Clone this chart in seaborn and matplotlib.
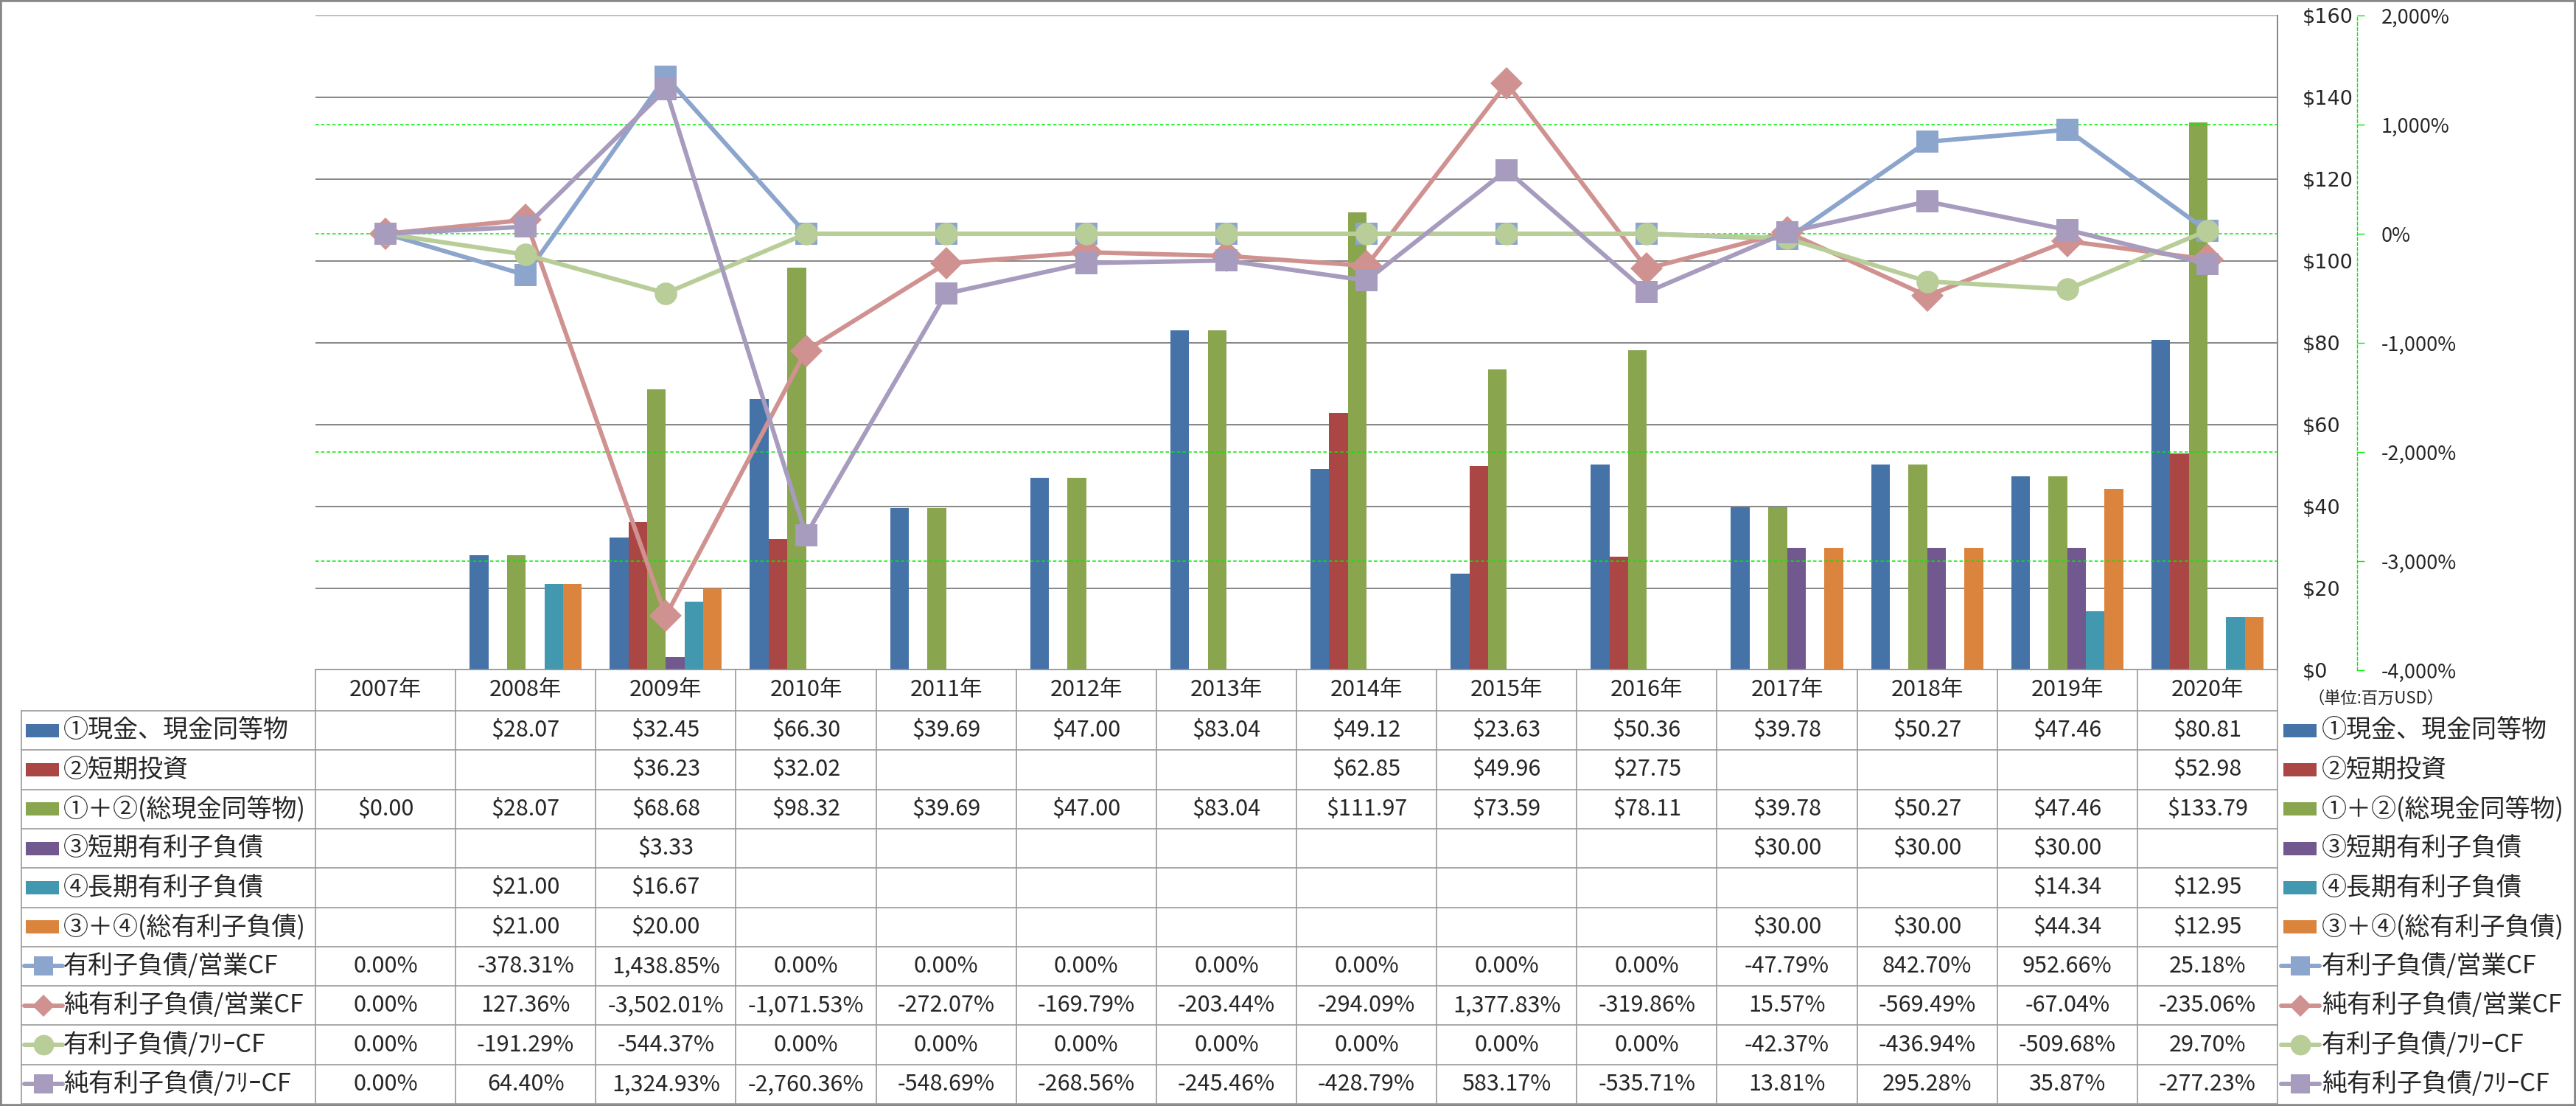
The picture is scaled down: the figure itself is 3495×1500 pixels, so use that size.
import numpy as np
import pandas as pd
import matplotlib
matplotlib.use("Agg")
import matplotlib.pyplot as plt
import matplotlib.transforms as mtransforms
from matplotlib.lines import Line2D
from matplotlib.patches import Rectangle
import seaborn as sns

# ---------------- data ----------------
years = ["2007年", "2008年", "2009年", "2010年", "2011年", "2012年", "2013年",
         "2014年", "2015年", "2016年", "2017年", "2018年", "2019年", "2020年"]
nan = np.nan
cash = [nan, 28.07, 32.45, 66.30, 39.69, 47.00, 83.04, 49.12, 23.63, 50.36, 39.78, 50.27, 47.46, 80.81]
st_invest = [nan, nan, 36.23, 32.02, nan, nan, nan, 62.85, 49.96, 27.75, nan, nan, nan, 52.98]
total_cash = [0.00, 28.07, 68.68, 98.32, 39.69, 47.00, 83.04, 111.97, 73.59, 78.11, 39.78, 50.27, 47.46, 133.79]
st_debt = [nan, nan, 3.33, nan, nan, nan, nan, nan, nan, nan, 30.00, 30.00, 30.00, nan]
lt_debt = [nan, 21.00, 16.67, nan, nan, nan, nan, nan, nan, nan, nan, nan, 14.34, 12.95]
total_debt = [nan, 21.00, 20.00, nan, nan, nan, nan, nan, nan, nan, 30.00, 30.00, 44.34, 12.95]

debt_ocf = [0.00, -378.31, 1438.85, 0.00, 0.00, 0.00, 0.00, 0.00, 0.00, 0.00, -47.79, 842.70, 952.66, 25.18]
netdebt_ocf = [0.00, 127.36, -3502.01, -1071.53, -272.07, -169.79, -203.44, -294.09, 1377.83, -319.86,
               15.57, -569.49, -67.04, -235.06]
debt_fcf = [0.00, -191.29, -544.37, 0.00, 0.00, 0.00, 0.00, 0.00, 0.00, 0.00, -42.37, -436.94, -509.68, 29.70]
netdebt_fcf = [0.00, 64.40, 1324.93, -2760.36, -548.69, -268.56, -245.46, -428.79, 583.17, -535.71,
               13.81, 295.28, 35.87, -277.23]

bar_labels = ["①現金、現金同等物", "②短期投資", "①＋②(総現金同等物)",
              "③短期有利子負債", "④長期有利子負債", "③＋④(総有利子負債)"]
bar_series = [cash, st_invest, total_cash, st_debt, lt_debt, total_debt]
line_labels = ["有利子負債/営業CF", "純有利子負債/営業CF", "有利子負債/ﾌﾘｰCF", "純有利子負債/ﾌﾘｰCF"]
line_series = [debt_ocf, netdebt_ocf, debt_fcf, netdebt_fcf]

dollar_ticks = [0, 20, 40, 60, 80, 100, 120, 140, 160]
pct_ticks = [-4000, -3000, -2000, -1000, 0, 1000, 2000]

# ---------------- styles ----------------
bar_colors = ["#4572A7", "#AA4643", "#89A54E", "#71588F", "#4198AF", "#DB843D"]
line_colors = ["#8CA5CD", "#D09290", "#B8CD97", "#A79BBE"]
line_markers = ["s", "D", "o", "s"]
legend_ms = {"s": 19, "D": 15, "o": 20}

sns.set_style("white")
plt.rcParams["font.family"] = ["Noto Sans CJK JP", "DejaVu Sans"]

bar_df = pd.DataFrame([
    {"year": y, "series": lab, "value": v}
    for lab, vals in zip(bar_labels, bar_series)
    for y, v in zip(years, vals) if not np.isnan(v)
])
line_df = pd.DataFrame([
    {"year": y, "series": lab, "value": v}
    for lab, vals in zip(line_labels, line_series)
    for y, v in zip(years, vals)
])

W, H = 3495, 1500
fig = plt.figure(figsize=(W / 100, H / 100), dpi=100)


def fx(px):
    return px / W


def fy(py):
    return 1 - py / H


AX_L, AX_R, AX_T, AX_B = 428, 3090, 21, 909
ax = fig.add_axes([fx(AX_L), fy(AX_B), (AX_R - AX_L) / W, (AX_B - AX_T) / H])

sns.barplot(data=bar_df, x="year", y="value", hue="series", order=years,
            hue_order=bar_labels, palette=dict(zip(bar_labels, bar_colors)),
            saturation=1, width=0.8, linewidth=0, errorbar=None, legend=False, ax=ax)

ax2 = ax.twinx()
sns.pointplot(data=line_df, x="year", y="value", hue="series", order=years,
              hue_order=line_labels, palette=dict(zip(line_labels, line_colors)),
              markers=line_markers, errorbar=None, legend=False, ax=ax2,
              linewidth=4.3, markersize=22, markeredgewidth=0)

# primary axis ($)
ax.set_xlim(-0.5, len(years) - 0.5)
ax.set_ylim(0, 160)
ax.set_yticks(dollar_ticks, labels=[f"${t}" for t in dollar_ticks])
ax.yaxis.tick_right()
ax.tick_params(axis="y", length=0, pad=24.5, labelsize=19.5)
ax.tick_params(axis="x", bottom=False, labelbottom=False)
for lbl in ax.get_yticklabels():
    lbl.set_fontfamily("DejaVu Sans")
ax.set_xlabel("")
ax.set_ylabel("")
ax.grid(axis="y", color="#868686", linewidth=1.4)
ax.grid(axis="x", visible=False)
ax.set_axisbelow(True)
for s in ["left", "top", "bottom"]:
    ax.spines[s].set_visible(False)
ax.spines["right"].set_color("#868686")
ax.spines["right"].set_linewidth(1.4)

# secondary axis (%)
ax2.set_xlim(-0.5, len(years) - 0.5)
ax2.set_ylim(-4000, 2000)
ax2.set_yticks(pct_ticks, labels=[f"{t:,}%" for t in pct_ticks])
for lbl, t in zip(ax2.get_yticklabels(), pct_ticks):
    lbl.set_color("#FF0000" if t < 0 else "black")
    lbl.set_fontfamily("DejaVu Sans")
ax2.tick_params(axis="y", length=7, width=1, color="#00EE00", pad=16.5, labelsize=19.5)
ax2.tick_params(axis="x", bottom=False, labelbottom=False)
ax2.set_xlabel("")
ax2.set_ylabel("")
for s in ["left", "top", "bottom"]:
    ax2.spines[s].set_visible(False)
ax2.spines["right"].set_position(("outward", 77.8))
ax2.spines["right"].set_color("#00EE00")
ax2.spines["right"].set_linestyle((0, (3, 2)))
ax2.spines["right"].set_linewidth(1.0)
ax2.yaxis.grid(True, color="#00EE00", linestyle=(0, (3, 2)), linewidth=1.1)
ax2.xaxis.grid(False)
# green guides that coincide with the gray $ gridlines / frame stay hidden (gray wins there)
for t, tick in zip(pct_ticks, ax2.yaxis.get_major_ticks()):
    if t in (-4000, -1000, 2000):
        tick.gridline.set_visible(False)

# ---------------- data table ----------------
grid_c = "#9A9A9A"
HDR_T, HDR_B = 908, 964
ROW_H = (1497 - 964) / 10
TBL_L = 29
row_tops = [HDR_B + k * ROW_H for k in range(11)]

# horizontal lines
fig.add_artist(Line2D([fx(AX_L), fx(AX_R)], [fy(HDR_T)] * 2, transform=fig.transFigure,
                      color=grid_c, lw=1.2))
for yt in row_tops:
    fig.add_artist(Line2D([fx(TBL_L), fx(AX_R)], [fy(yt)] * 2, transform=fig.transFigure,
                          color=grid_c, lw=1.2))
# vertical lines
fig.add_artist(Line2D([fx(TBL_L)] * 2, [fy(HDR_B), fy(1497)], transform=fig.transFigure,
                      color=grid_c, lw=1.2))
blend = mtransforms.blended_transform_factory(ax.transData, fig.transFigure)
for k in range(len(years) + 1):
    xb = k - 0.5
    fig.add_artist(Line2D([xb, xb], [fy(HDR_T), fy(1497)], transform=blend,
                          color=grid_c, lw=1.2))

# header
for i, y in enumerate(years):
    fig.text(i, fy((HDR_T + HDR_B) / 2), y, transform=blend, ha="center", va="center",
             fontsize=22)


def row_center(r):
    return fy(HDR_B + ROW_H * (r + 0.5))


# bar rows
for r, (lab, vals, col) in enumerate(zip(bar_labels, bar_series, bar_colors)):
    yc = row_center(r)
    for x0 in (35, 3098):
        fig.add_artist(Rectangle((fx(x0), yc - 9 / H), 45 / W, 18 / H, transform=fig.transFigure,
                                 facecolor=col, edgecolor="none"))
    fig.text(fx(86), yc, lab, ha="left", va="center", fontsize=24.5)
    fig.text(fx(3150), yc, lab, ha="left", va="center", fontsize=24.5)
    for i, v in enumerate(vals):
        if not np.isnan(v):
            fig.text(i, yc, f"${v:,.2f}", transform=blend, ha="center", va="center", fontsize=22)

# line rows
for j, (lab, vals, col, mk) in enumerate(zip(line_labels, line_series, line_colors, line_markers)):
    r = 6 + j
    yc = row_center(r)
    for x0, x1 in ((33, 85), (3095, 3147)):
        fig.add_artist(Line2D([fx(x0), fx(x1)], [yc, yc], transform=fig.transFigure,
                              color=col, lw=4.3, solid_capstyle="round"))
        fig.add_artist(Line2D([fx((x0 + x1) / 2)], [yc], transform=fig.transFigure,
                              color=col, marker=mk, ms=legend_ms[mk], mew=0, linestyle="none"))
    fig.text(fx(86), yc, lab, ha="left", va="center", fontsize=24.5)
    fig.text(fx(3150), yc, lab, ha="left", va="center", fontsize=24.5)
    for i, v in enumerate(vals):
        fig.text(i, yc, f"{v:,.2f}%", transform=blend, ha="center", va="center", fontsize=22)

# unit note
fig.text(fx(3224), fy(947), "（単位:百万USD）", ha="center", va="center", fontsize=16)

# outer frame
fig.add_artist(Rectangle((0, 0), 1, 1, transform=fig.transFigure, fill=False,
                         edgecolor="#868686", lw=4))

fig.savefig("out.png", dpi=100)
